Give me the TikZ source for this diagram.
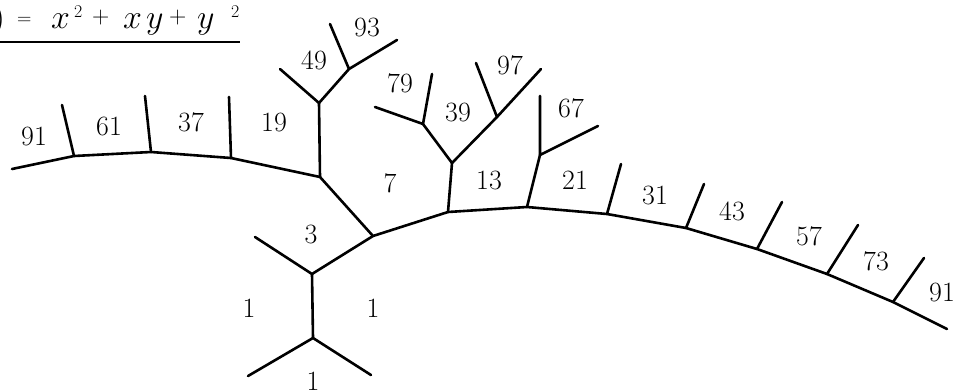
\RequirePackage{fix-cm}
\documentclass[tikz,border=0pt]{standalone}
\begin{document}
\begin{tikzpicture}[x=1bp,y=-1bp,
  edge/.style={line width=2.6bp, line cap=round, line join=round},
  lab/.style={inner sep=0pt, font=\fontsize{28}{32}\selectfont},
  tbig/.style={inner sep=0pt, outer sep=0pt, anchor=base west, font=\fontsize{34}{40}\selectfont},
  top/.style={inner sep=0pt, outer sep=0pt, anchor=base west, font=\fontsize{24}{28}\selectfont},
  teq/.style={inner sep=0pt, outer sep=0pt, anchor=base west, font=\fontsize{20}{24}\selectfont},
  tsup/.style={inner sep=0pt, outer sep=0pt, anchor=base west, font=\fontsize{18}{20}\selectfont}]
\useasboundingbox (0,0) rectangle (954,389);
% vertices
\coordinate (A) at (313,338);
\coordinate (Al) at (248,376);
\coordinate (Ar) at (371,375);
\coordinate (B) at (312,274);
\coordinate (Bl) at (255,237);
\coordinate (C) at (373,236);
\coordinate (D) at (320,177);
\coordinate (F) at (231,158);
\coordinate (Fu) at (229,97);
\coordinate (I) at (151,152);
\coordinate (Iu) at (145,96);
\coordinate (J) at (74,156);
\coordinate (Ju) at (62,105);
\coordinate (Jl) at (12,169);
\coordinate (G) at (319,103);
\coordinate (Gl) at (280,69);
\coordinate (H) at (349,69);
\coordinate (Hu) at (330,24);
\coordinate (Hr) at (397,40);
\coordinate (E) at (448,212);
\coordinate (K) at (452,163);
\coordinate (M) at (423,124);
\coordinate (Mu) at (432,74);
\coordinate (Ml) at (375,107);
\coordinate (N) at (497,117);
\coordinate (Nu) at (476,63);
\coordinate (Nr) at (541,69);
\coordinate (L) at (527,207);
\coordinate (O) at (540,155);
\coordinate (Ou) at (540,96);
\coordinate (Or) at (598,126);
\coordinate (P) at (607,214);
\coordinate (Pu) at (621,164);
\coordinate (Q) at (686,228);
\coordinate (Qu) at (704,184);
\coordinate (R) at (757,249);
\coordinate (Ru) at (782,202);
\coordinate (S) at (827,274);
\coordinate (Su) at (858,225);
\coordinate (T) at (893,302);
\coordinate (Tu) at (924,258);
\coordinate (Z) at (947,329);
\coordinate (ul1) at (0,42);
\coordinate (ul2) at (240,42);
% edges
\draw[edge] (Al) -- (A) -- (Ar);
\draw[edge] (A) -- (B);
\draw[edge] (Bl) -- (B) -- (C);
\draw[edge] (Jl) -- (J) -- (I) -- (F) -- (D) -- (C) -- (E) -- (L) -- (P) -- (Q) -- (R) -- (S) -- (T) -- (Z);
\draw[edge] (J) -- (Ju);
\draw[edge] (I) -- (Iu);
\draw[edge] (F) -- (Fu);
\draw[edge] (D) -- (G);
\draw[edge] (Gl) -- (G) -- (H);
\draw[edge] (Hu) -- (H) -- (Hr);
\draw[edge] (E) -- (K);
\draw[edge] (M) -- (K) -- (N);
\draw[edge] (Ml) -- (M) -- (Mu);
\draw[edge] (Nu) -- (N) -- (Nr);
\draw[edge] (L) -- (O);
\draw[edge] (Ou) -- (O) -- (Or);
\draw[edge] (P) -- (Pu);
\draw[edge] (Q) -- (Qu);
\draw[edge] (R) -- (Ru);
\draw[edge] (S) -- (Su);
\draw[edge] (T) -- (Tu);
\draw[line width=2.3bp] (ul1) -- (ul2);
% title: ) = x^2+xy+y^2
\node[tbig] (t1) at (-7,28) {)};
\node[teq] (t2) at (17,24.5) {=};
\node[tbig] (t3) at (51,28) {$x$};
\node[tsup] (t4) at (74,17) {2};
\node[top] (t5) at (92,23.5) {+};
\node[tbig] (t6) at (123,28) {$x$};
\node[tbig] (t7) at (146,28) {$y$};
\node[top] (t8) at (169,23.5) {+};
\node[tbig] (t9) at (197,28) {$y$};
\node[tsup] (t10) at (231,17) {2};
% labels
\node[lab] (l1) at (34,136) {91};
\node[lab] (l2) at (109,126) {61};
\node[lab] (l3) at (191,122) {37};
\node[lab] (l4) at (274,122) {19};
\node[lab] (l5) at (314,60) {49};
\node[lab] (l6) at (367,27) {93};
\node[lab] (l7) at (390,183) {7};
\node[lab] (l8) at (311,234) {3};
\node[lab] (l9) at (249,308) {1};
\node[lab] (l10) at (373,308) {1};
\node[lab] (l11) at (313,381) {1};
\node[lab] (l12) at (400,83) {79};
\node[lab] (l13) at (458,112) {39};
\node[lab] (l14) at (510,65) {97};
\node[lab] (l15) at (571,108) {67};
\node[lab] (l16) at (489,180) {13};
\node[lab] (l17) at (575,180) {21};
\node[lab] (l18) at (655,195) {31};
\node[lab] (l19) at (732,211) {43};
\node[lab] (l20) at (809,236) {57};
\node[lab] (l21) at (876,261) {73};
\node[lab] (l22) at (942,292) {91};
\end{tikzpicture}
\end{document}
